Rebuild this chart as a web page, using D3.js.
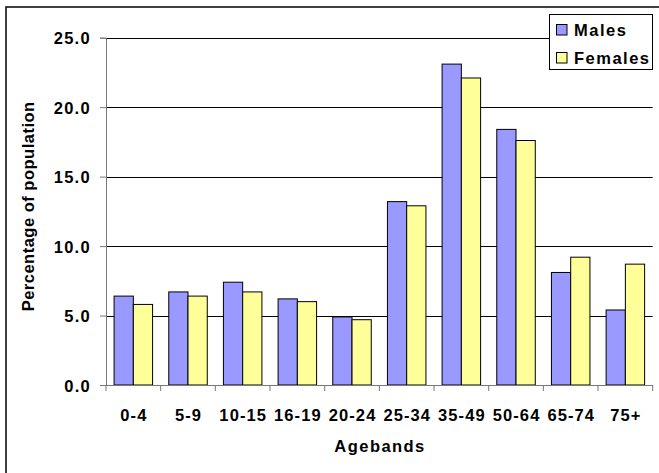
<!DOCTYPE html>
<html>
<head>
<meta charset="utf-8">
<script src="https://cdn.jsdelivr.net/npm/d3@7"></script>
<style>
  html, body { margin: 0; padding: 0; background: #fff; }
  svg { display: block; font-family: Arial, "Liberation Sans", sans-serif; font-weight: bold; }
</style>
</head>
<body>
<svg id="chart" width="659" height="473"></svg>
<script>
const categories = ["0-4", "5-9", "10-15", "16-19", "20-24", "25-34", "35-49", "50-64", "65-74", "75+"];
const males   = [6.4, 6.7, 7.4, 6.2, 4.9, 13.2, 23.1, 18.4, 8.1, 5.4];
const females = [5.8, 6.4, 6.7, 6.0, 4.7, 12.9, 22.1, 17.6, 9.2, 8.7];
const seriesNames = ["Males", "Females"];
const seriesColors = ["#9999FF", "#FFFF99"];
const yTicks = [0, 5, 10, 15, 20, 25];
const yTitle = "Percentage of population";
const xTitle = "Agebands";

const svg = d3.select("#chart");
const pLeft = 106, pRight = 652.7, pTop = 37.7, pBottom = 385;
const fs = 16.5;

// outer border
svg.append("rect").attr("x", 6).attr("y", 7).attr("width", 700).attr("height", 500)
  .attr("fill", "none").attr("stroke", "#111").attr("stroke-width", 1.6);

const x0 = d3.scaleBand().domain(categories).range([pLeft, pRight]).padding(0);
const x1 = d3.scaleBand().domain(seriesNames).range([0, x0.bandwidth()]).paddingInner(0).paddingOuter(0.42);
const y = d3.scaleLinear().domain([0, 25]).range([pBottom, pTop]);

// gridlines
svg.append("g").selectAll("line").data(yTicks.filter(d => d > 0)).join("line")
  .attr("x1", pLeft).attr("x2", pRight)
  .attr("y1", d => Math.round(y(d)) + 0.5).attr("y2", d => Math.round(y(d)) + 0.5)
  .attr("stroke", "#000").attr("stroke-width", 1);

// bars
const rows = categories.map((c, i) => ({ c, vals: [males[i], females[i]] }));
const groups = svg.append("g").selectAll("g").data(rows).join("g")
  .attr("transform", d => `translate(${x0(d.c)},0)`);
groups.selectAll("rect").data(d => d.vals.map((v, j) => ({ v, s: seriesNames[j], j }))).join("rect")
  .attr("x", d => x1(d.s))
  .attr("y", d => y(d.v))
  .attr("width", x1.bandwidth())
  .attr("height", d => y(0) - y(d.v))
  .attr("fill", d => seriesColors[d.j])
  .attr("stroke", "#000").attr("stroke-width", 1);

// y axis
const yAxis = d3.axisLeft(y).tickValues(yTicks).tickFormat(d3.format(".1f")).tickSize(6).tickPadding(9);
const gy = svg.append("g").attr("transform", `translate(${pLeft},0)`).call(yAxis);
gy.select(".domain").attr("stroke", "#777");
gy.selectAll(".tick line").attr("stroke", "#777");
gy.selectAll(".tick text").attr("font-size", fs).attr("font-weight", "bold")
  .attr("font-family", "Arial, 'Liberation Sans', sans-serif")
  .attr("fill", "#000").style("letter-spacing", "1.3px").attr("dy", "0.38em");

// x axis
const gx = svg.append("g").attr("transform", `translate(0,${pBottom})`);
gx.append("line").attr("x1", pLeft).attr("x2", pRight).attr("y1", 0.5).attr("y2", 0.5).attr("stroke", "#777");
const boundaries = categories.map(c => x0(c)).concat([pRight]);
gx.selectAll("line.tk").data(boundaries).join("line").attr("class", "tk")
  .attr("x1", d => d).attr("x2", d => d).attr("y1", 0).attr("y2", 6).attr("stroke", "#777");
gx.selectAll("text").data(categories).join("text")
  .attr("x", d => x0(d) + x0.bandwidth() / 2 + 0.55)
  .attr("y", 36)
  .attr("text-anchor", "middle")
  .attr("font-size", fs).style("letter-spacing", "1.1px")
  .text(d => d);

// axis titles
svg.append("text").attr("transform", `translate(34.3,${(pTop + pBottom) / 2 - 5}) rotate(-90)`)
  .attr("text-anchor", "middle").attr("font-size", fs).style("letter-spacing", "0.5px")
  .text(yTitle);
svg.append("text").attr("x", (pLeft + pRight) / 2 + 0.7).attr("y", 452)
  .attr("text-anchor", "middle").attr("font-size", fs).style("letter-spacing", "1.45px")
  .text(xTitle);

// legend
const lg = svg.append("g");
lg.append("rect").attr("x", 549.5).attr("y", 14.5).attr("width", 103).attr("height", 55)
  .attr("fill", "#fff").attr("stroke", "#000").attr("stroke-width", 1);
const items = lg.selectAll("g").data(seriesNames).join("g")
  .attr("transform", (d, i) => `translate(0,${i * 28})`);
items.append("rect").attr("x", 556.5).attr("y", 24.5).attr("width", 10.5).attr("height", 10.5)
  .attr("fill", (d, i) => seriesColors[i]).attr("stroke", "#000").attr("stroke-width", 1);
items.append("text").attr("x", 574).attr("y", 36)
  .attr("font-size", fs).style("letter-spacing", "1.5px").text(d => d);
</script>
</body>
</html>
